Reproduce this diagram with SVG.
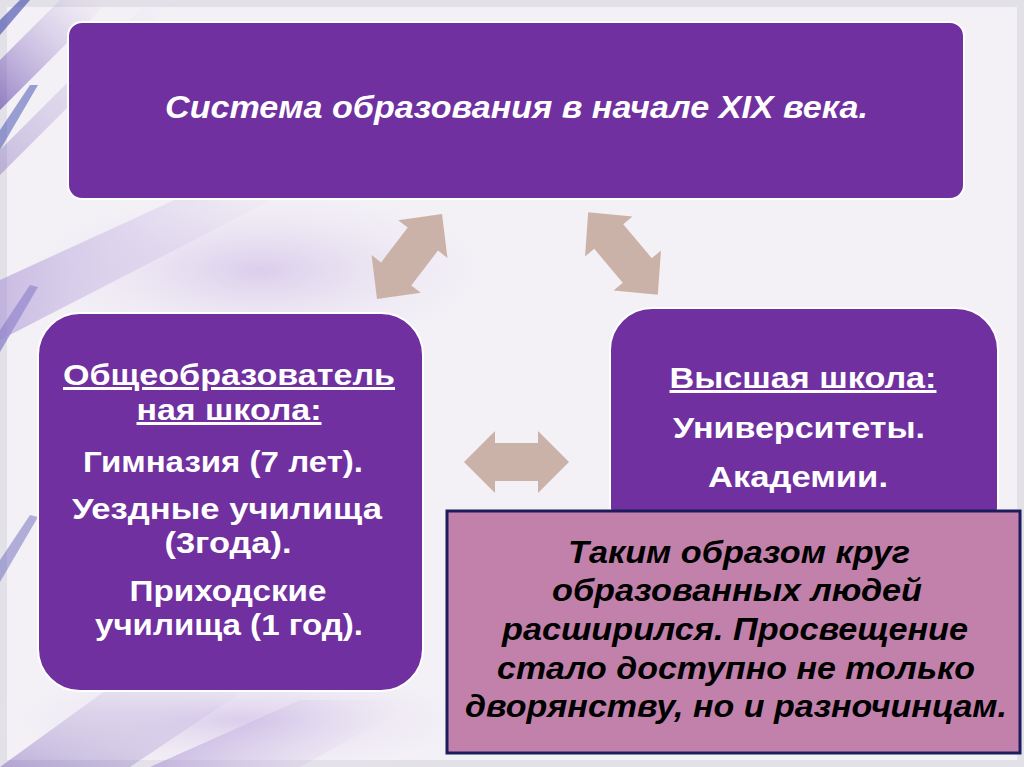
<svg xmlns="http://www.w3.org/2000/svg" xmlns:xlink="http://www.w3.org/1999/xlink" width="1024" height="767" viewBox="0 0 1024 767">
  <defs>
    <style>
      .box { fill: #7030A0; stroke: #FFFFFF; stroke-width: 2; }
      .note { fill: #C281AB; stroke: #1C1C5C; stroke-width: 3; }
      .wt { font-family: "Liberation Sans", Arial, sans-serif; font-weight: bold; fill: #FFFFFF; text-anchor: middle; font-size: 30px; }
      .ttl { font-family: "Liberation Sans", Arial, sans-serif; font-weight: bold; font-style: italic; fill: #FFFFFF; text-anchor: middle; font-size: 32px; }
      .bk { font-family: "Liberation Sans", Arial, sans-serif; font-weight: bold; font-style: italic; fill: #000000; text-anchor: middle; font-size: 32px; }
      .u { text-decoration: underline; }
      .arrow { fill: #CBB2A9; }
    </style>
    <path id="dbl" d="M -52.5 0 L -21.5 -31 L -21.5 -19 L 21.5 -19 L 21.5 -31 L 52.5 0 L 21.5 31 L 21.5 19 L -21.5 19 L -21.5 31 Z"/>
    <linearGradient id="streakA" x1="0" y1="1" x2="1" y2="0">
      <stop offset="0" stop-color="#5A3CA8" stop-opacity="0.6"/>
      <stop offset="1" stop-color="#B8A6DC" stop-opacity="0"/>
    </linearGradient>
    <linearGradient id="streakB" x1="0" y1="0" x2="1" y2="0">
      <stop offset="0" stop-color="#9F86D0" stop-opacity="0.5"/>
      <stop offset="1" stop-color="#E6DDF2" stop-opacity="0"/>
    </linearGradient>
    <radialGradient id="haze" cx="0.5" cy="0.5" r="0.5">
      <stop offset="0" stop-color="#C9B6E4" stop-opacity="0.6"/>
      <stop offset="1" stop-color="#EFE9F6" stop-opacity="0"/>
    </radialGradient>
  </defs>

  <!-- background -->
  <g id="background">
    <rect x="0" y="0" width="1024" height="767" fill="#F4F1F6"/>
    <rect x="0" y="0" width="1024" height="767" fill="none" stroke="#E3E1E8" stroke-width="14"/>
    <ellipse cx="260" cy="270" rx="260" ry="90" fill="url(#haze)"/>
    <ellipse cx="240" cy="720" rx="260" ry="60" fill="url(#haze)"/>
    <polygon points="0,60 60,0 110,0 0,110" fill="url(#streakA)"/>
    <polygon points="0,150 150,0 175,0 0,175" fill="url(#streakA)" opacity="0.5"/>
    <polygon points="0,20 20,0 30,0 0,35" fill="#3A44A8" opacity="0.6"/>
    <polygon points="0,130 30,85 38,85 0,150" fill="#3B4AAE" opacity="0.5"/>
    <polygon points="0,330 30,285 38,287 0,352" fill="#4A48B0" opacity="0.45"/>
    <polygon points="0,560 30,515 38,517 0,582" fill="#4A48B0" opacity="0.4"/>
    <polygon points="0,280 240,170 330,170 0,340" fill="url(#streakB)"/>
    <polygon points="0,767 120,680 260,680 130,767" fill="url(#streakA)" opacity="0.6"/>
    <polygon points="150,767 300,700 420,700 300,767" fill="url(#streakB)"/>
  </g>

  <!-- connectors -->
  <g id="connectors" class="arrow">
    <use xlink:href="#dbl" href="#dbl" transform="translate(409.5,256.5) rotate(-52.6) scale(1.02,1)"/>
    <use xlink:href="#dbl" href="#dbl" transform="translate(623,253.5) rotate(49.9) scale(1.03,1)"/>
    <use xlink:href="#dbl" href="#dbl" transform="translate(516.5,462)"/>
  </g>

  <g id="node-top">
    <rect class="box" x="68" y="22" width="896" height="177" rx="14" ry="14"/>
    <text class="ttl" x="516.5" y="118" textLength="703" lengthAdjust="spacingAndGlyphs">Система образования в начале XIX века.</text>
  </g>

  <g id="node-left">
    <rect class="box" x="38" y="313" width="385" height="378" rx="42" ry="42"/>
    <text class="wt u" x="229" y="385" textLength="332" lengthAdjust="spacingAndGlyphs">Общеобразователь</text>
    <text class="wt u" x="229" y="420" textLength="185" lengthAdjust="spacingAndGlyphs">ная школа:</text>
    <text class="wt" x="223" y="472" textLength="280" lengthAdjust="spacingAndGlyphs">Гимназия (7 лет).</text>
    <text class="wt" x="227" y="519" textLength="310" lengthAdjust="spacingAndGlyphs">Уездные училища</text>
    <text class="wt" x="228" y="553" textLength="127" lengthAdjust="spacingAndGlyphs">(3года).</text>
    <text class="wt" x="228" y="601" textLength="197" lengthAdjust="spacingAndGlyphs">Приходские</text>
    <text class="wt" x="229" y="635" textLength="268" lengthAdjust="spacingAndGlyphs">училища (1 год).</text>
  </g>

  <g id="node-right">
    <rect class="box" x="610" y="308" width="388" height="240" rx="42" ry="42"/>
    <text class="wt u" x="803" y="388" textLength="267" lengthAdjust="spacingAndGlyphs">Высшая школа:</text>
    <text class="wt" x="799" y="438" textLength="252" lengthAdjust="spacingAndGlyphs">Университеты.</text>
    <text class="wt" x="798" y="487" textLength="180" lengthAdjust="spacingAndGlyphs">Академии.</text>
  </g>

  <g id="node-note">
    <rect class="note" x="447" y="511" width="573" height="242"/>
    <text class="bk" x="739" y="563" textLength="342" lengthAdjust="spacingAndGlyphs">Таким образом круг</text>
    <text class="bk" x="737" y="601" textLength="370" lengthAdjust="spacingAndGlyphs">образованных людей</text>
    <text class="bk" x="735" y="640" textLength="466" lengthAdjust="spacingAndGlyphs">расширился. Просвещение</text>
    <text class="bk" x="736" y="679" textLength="478" lengthAdjust="spacingAndGlyphs">стало доступно не только</text>
    <text class="bk" x="736" y="717" textLength="542" lengthAdjust="spacingAndGlyphs">дворянству, но и разночинцам.</text>
  </g>
</svg>
